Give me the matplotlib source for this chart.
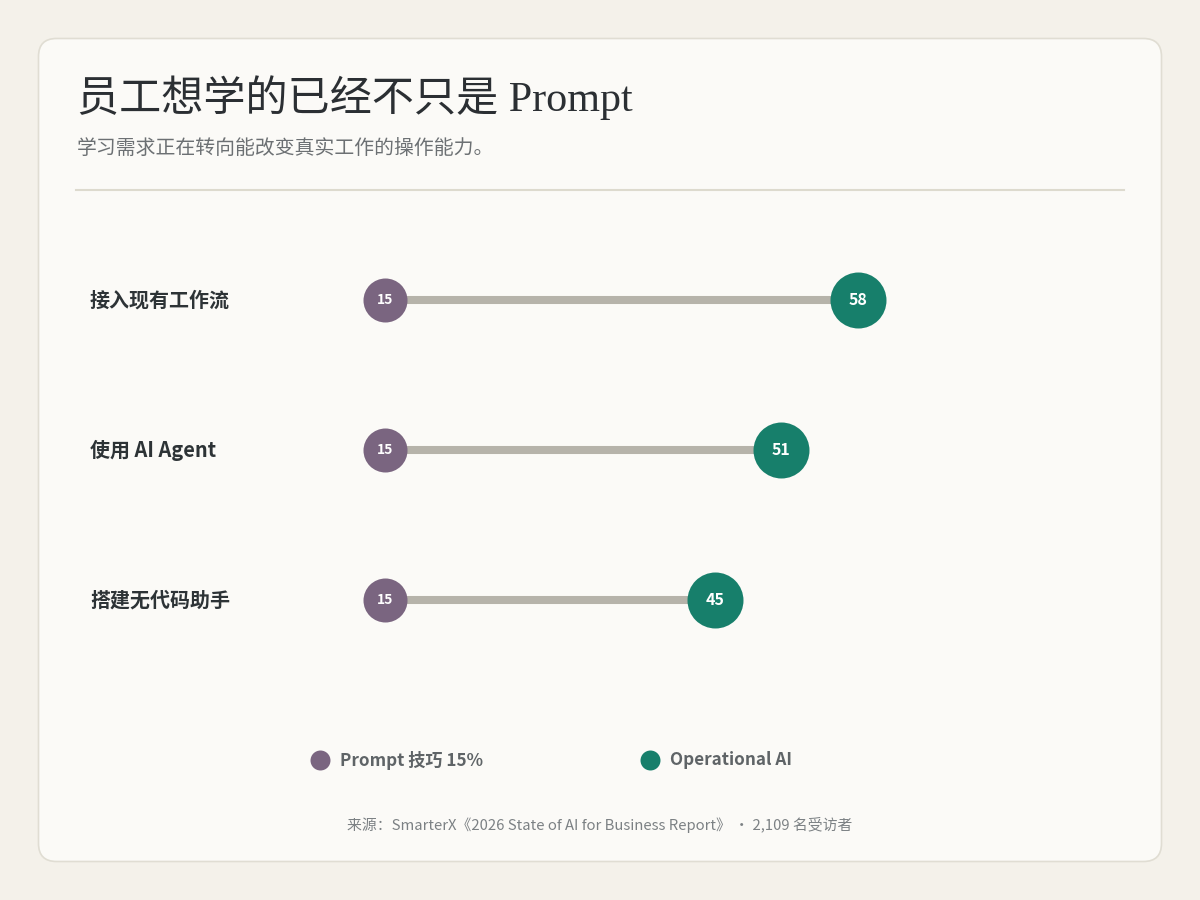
import matplotlib
matplotlib.use("Agg")
import matplotlib.pyplot as plt
from matplotlib.patches import FancyBboxPatch

categories = ["接入现有工作流", "使用 AI Agent", "搭建无代码助手"]
prompt_vals = [15, 15, 15]
operational_vals = [58, 51, 45]
legend_labels = ["Prompt 技巧 15%", "Operational AI"]
title = "员工想学的已经不只是 Prompt"
subtitle = "学习需求正在转向能改变真实工作的操作能力。"
source = "来源：SmarterX《2026 State of AI for Business Report》 · 2,109 名受访者"

PURPLE = "#7a6580"
GREEN = "#177f6b"
LINE = "#b6b3aa"
SANS = ["Noto Sans CJK SC", "DejaVu Sans"]
SERIF = ["Liberation Serif", "Noto Sans CJK SC"]

W, H = 1200, 900
fig = plt.figure(figsize=(12, 9), dpi=100)
fig.patch.set_facecolor("#f4f1ea")

bg = fig.add_axes([0, 0, 1, 1])
bg.set_xlim(0, W)
bg.set_ylim(H, 0)
bg.axis("off")
card = FancyBboxPatch((38.5, 38.5), 1123, 823, boxstyle="round,pad=0,rounding_size=18",
                      facecolor="#fbfaf7", edgecolor="#e0ddd3", linewidth=1.2)
bg.add_patch(card)
bg.text(77, 98, title, fontsize=30.3, family=SERIF, color="#2b2f33", va="center", ha="left")
bg.text(77, 148, subtitle, fontsize=14.3, family=SANS, color="#6c7073", va="center", ha="left")
bg.plot([76, 1124], [189.5, 189.5], color="#dddace", linewidth=1.5)

for i, c in enumerate(categories):
    bg.text(90, 300 + i * 150, c, fontsize=14.4, family=SANS, fontweight="bold",
            color="#2d3336", va="center", ha="left")

# legend
bg.scatter([320], [760], s=207, color=PURPLE, zorder=3, linewidths=0)
bg.text(340, 760, legend_labels[0], fontsize=12.3, family=SANS, fontweight="bold",
        color="#5f6467", va="center", ha="left")
bg.scatter([650], [760], s=207, color=GREEN, zorder=3, linewidths=0)
bg.text(670, 760, legend_labels[1], fontsize=12.3, family=SANS, fontweight="bold",
        color="#5f6467", va="center", ha="left")
bg.text(600, 825, source, fontsize=10.7, family=SANS, color="#7c8184", va="center", ha="center")

# data axes: x 0 -> px 220, 11 px per unit; rows at px 300/450/600
ax = fig.add_axes([220 / W, 1 - 675 / H, 880 / W, 450 / H])
ax.set_xlim(0, 80)
ax.set_ylim(2.5, -0.5)
ax.axis("off")
ys = list(range(len(categories)))
for y, p, o in zip(ys, prompt_vals, operational_vals):
    ax.plot([p, o], [y, y], color=LINE, linewidth=5.8, solid_capstyle="butt", zorder=1)
ax.scatter(prompt_vals, ys, s=1004, color=PURPLE, zorder=3, linewidths=0)
ax.scatter(operational_vals, ys, s=1625, color=GREEN, zorder=3, linewidths=0)
for y, p, o in zip(ys, prompt_vals, operational_vals):
    ax.text(p, y, str(p), fontsize=10, family=SANS, fontweight="bold", color="white",
            ha="center", va="center", zorder=4)
    ax.text(o, y, str(o), fontsize=11.5, family=SANS, fontweight="bold", color="white",
            ha="center", va="center", zorder=4)

fig.savefig("out.png", dpi=100, facecolor=fig.get_facecolor())
